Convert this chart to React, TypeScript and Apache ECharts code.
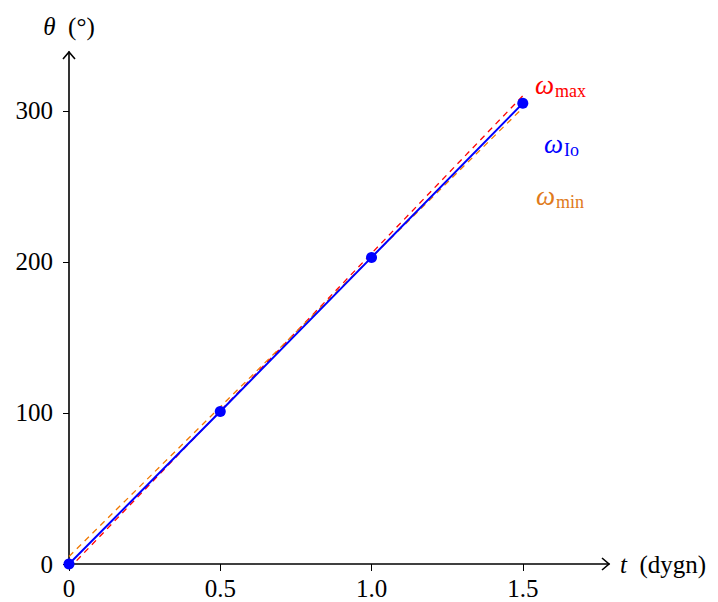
import React, { useEffect, useRef } from 'react';
import * as echarts from 'echarts';

const times = [0, 0.5, 1.0, 1.5];
const angles = [0, 101, 203, 305];
const maxLineT = [0, 1.5];
const maxLineTheta = [-3, 310];
const minLineT = [0, 1.5];
const minLineTheta = [5, 302];
const xTicks = [0, 0.5, 1.0, 1.5];
const yTicks = [0, 100, 200, 300];
const xMax = 1.785;
const yMax = 339;

const FONT = '"Liberation Serif", "DejaVu Serif", serif';
const BLUE = '#0000ff';
const RED = '#ff0000';
const ORANGE = '#f07800';
const FS = 25;
const NFS = 25;

export default function App() {
  const ref = useRef<HTMLDivElement>(null);
  useEffect(() => {
    if (!ref.current) return;
    const chart = echarts.init(ref.current, undefined, { renderer: 'svg' });
    const pair = (a: number[], b: number[]) => a.map((v, i) => [v, b[i]]);
    chart.setOption({
      animation: false,
      backgroundColor: '#ffffff',
      grid: { left: 69, right: 109, top: 52, bottom: 38, containLabel: false },
      xAxis: {
        type: 'value',
        min: 0,
        max: xMax,
        name: '{i|t}  (dygn)',
        nameLocation: 'end',
        nameGap: 11,
        nameTextStyle: {
          fontFamily: FONT, fontSize: NFS, color: '#000',
          rich: { i: { fontFamily: FONT, fontStyle: 'italic', fontSize: NFS, color: '#000' } },
        },
        axisLine: { show: true, lineStyle: { color: '#000', width: 1.6 } },
        axisTick: { show: true, customValues: xTicks, length: 7, lineStyle: { color: '#000', width: 1 } },
        axisLabel: {
          customValues: xTicks,
          margin: 12,
          fontFamily: FONT, fontSize: FS, color: '#000',
          formatter: (v: number) => (v === 0 ? '0' : v.toFixed(1)),
        },
        splitLine: { show: false },
      },
      yAxis: {
        type: 'value',
        min: 0,
        max: yMax,
        name: '{i|θ}  (°)',
        nameLocation: 'end',
        nameGap: 13,
        nameTextStyle: {
          fontFamily: FONT, fontSize: NFS, color: '#000', align: 'center',
          rich: { i: { fontFamily: FONT, fontStyle: 'italic', fontSize: NFS, color: '#000' } },
        },
        axisLine: { show: true, lineStyle: { color: '#000', width: 1.6 } },
        axisTick: { show: true, customValues: yTicks, length: 6, lineStyle: { color: '#000', width: 1 } },
        axisLabel: {
          customValues: yTicks,
          margin: 16,
          fontFamily: FONT, fontSize: FS, color: '#000',
        },
        splitLine: { show: false },
      },
      series: [
        {
          type: 'line',
          data: pair(maxLineT, maxLineTheta),
          symbol: 'none',
          clip: false,
          lineStyle: { color: RED, width: 1.3, type: [6, 5] },
          z: 2,
        },
        {
          type: 'line',
          data: pair(minLineT, minLineTheta),
          symbol: 'none',
          clip: false,
          lineStyle: { color: ORANGE, width: 1.3, type: [6, 5] },
          z: 2,
        },
        {
          type: 'line',
          data: pair(times, angles),
          symbol: 'circle',
          symbolSize: 11,
          clip: false,
          itemStyle: { color: BLUE },
          lineStyle: { color: BLUE, width: 2 },
          z: 3,
        },
      ],
    });

    const tipX = chart.convertToPixel({ gridIndex: 0 }, [xMax, 0]) as number[];
    const tipY = chart.convertToPixel({ gridIndex: 0 }, [0, yMax]) as number[];
    const labelRich = (color: string) => ({
      w: { fontFamily: FONT, fontStyle: 'italic', fontSize: 27, fill: color, color },
      s: { fontFamily: FONT, fontSize: 18, fill: color, color, padding: [11, 0, 0, 1] },
    });
    chart.setOption({
      graphic: [
        {
          type: 'polyline',
          shape: { points: [[tipX[0] - 7, tipX[1] - 6], [tipX[0], tipX[1]], [tipX[0] - 7, tipX[1] + 6]] },
          style: { stroke: '#000', lineWidth: 1.6, fill: 'none' },
          z: 10,
        },
        {
          type: 'polyline',
          shape: { points: [[tipY[0] - 6, tipY[1] + 7], [tipY[0], tipY[1]], [tipY[0] + 6, tipY[1] + 7]] },
          style: { stroke: '#000', lineWidth: 1.6, fill: 'none' },
          z: 10,
        },
        {
          type: 'text',
          x: 535, y: 85,
          style: { text: '{w|ω}{s|max}', rich: labelRich(RED), fill: RED, verticalAlign: 'middle', align: 'left' },
        },
        {
          type: 'text',
          x: 544, y: 144,
          style: { text: '{w|ω}{s|Io}', rich: labelRich(BLUE), fill: BLUE, verticalAlign: 'middle', align: 'left' },
        },
        {
          type: 'text',
          x: 536, y: 196,
          style: { text: '{w|ω}{s|min}', rich: labelRich('#e07a1a'), fill: '#e07a1a', verticalAlign: 'middle', align: 'left' },
        },
      ],
    });
    return () => chart.dispose();
  }, []);
  return (
    <div
      ref={ref}
      style={{ position: 'fixed', left: 0, top: 0, width: 718, height: 602, background: '#fff' }}
    />
  );
}
